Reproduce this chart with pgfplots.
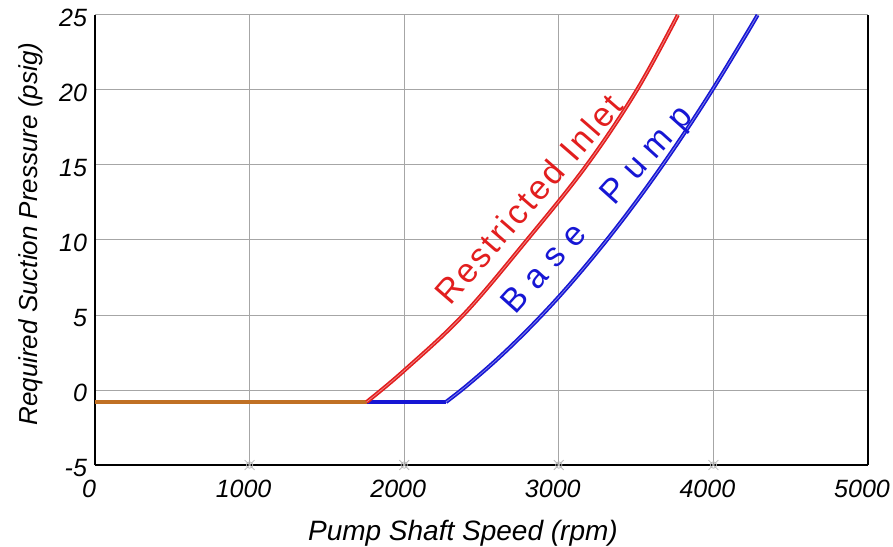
\documentclass[border=0pt]{standalone}
\usepackage{fontspec}
\setmainfont{Liberation Sans}
\usepackage{pgfplots}
\pgfplotsset{compat=1.18}
\definecolor{cred}{RGB}{226,30,30}
\definecolor{cblue}{RGB}{22,22,212}
\definecolor{cbrown}{RGB}{192,112,36}
\begin{document}
\begin{tikzpicture}
\begin{axis}[
  scale only axis, width=386.5pt, height=225pt,
  xmin=0, xmax=5000, ymin=-5, ymax=25,
  xtick={0,1000,...,5000}, ytick={-5,0,...,25},
  grid=major, major grid style={gray!70, line width=0.5pt},
  major tick length=0pt,
  axis x line*=bottom, axis y line*=left,
  axis line style={line width=1pt, black},
  clip=false,
  tick label style={font=\fontsize{12.5}{13}\selectfont\itshape},
  xticklabel style={yshift=-4pt, xshift=-3pt},
  yticklabel style={yshift=-1.5pt, xshift=-0.5pt},
  /pgf/number format/assume math mode=true,
  /pgf/number format/1000 sep={},
  xlabel={Pump Shaft Speed (rpm)},
  ylabel={Required Suction Pressure (psig)},
  xlabel style={font=\fontsize{14}{14}\selectfont\itshape, at={(axis description cs:0.476,0)}, anchor=base, yshift=-37.5pt},
  ylabel style={font=\fontsize{13}{13}\selectfont\itshape, at={(axis description cs:0,0.513)}, anchor=base, yshift=29pt},
]
\addplot[only marks, mark=x, mark size=3.5pt, gray!55, forget plot] coordinates {(1000,-5)(2000,-5)(3000,-5)(4000,-5)};
\addplot[only marks, mark=o, mark size=1.6pt, gray!55, forget plot] coordinates {(1000,-5)(2000,-5)(3000,-5)(4000,-5)};
\addplot[cbrown, line width=2pt] coordinates {(0,-0.8)(1757,-0.8)};
\addplot[cblue, line width=2pt] coordinates {(1757,-0.8)(2270,-0.8)};
\addplot[draw=cblue, line width=0.8pt, double=cblue!55!white, double distance=0.4pt, smooth, tension=0.6]
  coordinates {(2270,-0.8)(2400,0.25)(2600,2.04)(2800,4.03)(3000,6.21)(3200,8.60)(3400,11.18)(3600,13.96)(3800,16.94)(4000,20.12)(4200,23.50)(4286,25)};
\addplot[draw=cred, line width=0.8pt, double=cred!55!white, double distance=0.4pt, smooth, tension=0.6]
  coordinates {(1757,-0.8)(2000,1.3)(2382,5)(2794,10)(3181,15)(3505,20)(3770,25)};
\node[cred, rotate=49, anchor=base, font=\fontsize{17}{17}\selectfont\addfontfeature{LetterSpace=8}] at (axis cs:2863,12.2) {Restricted Inlet};
\node[cblue, rotate=48, anchor=base, font=\fontsize{17}{17}\selectfont\addfontfeature{LetterSpace=30}] at (axis cs:3297,11.57) {Base\ \ Pump};
\draw[line width=1pt] (rel axis cs:1,0) -- (rel axis cs:1,1);
\end{axis}
\pgfresetboundingbox
\path[use as bounding box] ([shift={(-47.5pt,-40.5pt)}]current axis.south west) rectangle ([shift={(12.5pt,7.5pt)}]current axis.north east);
\end{tikzpicture}
\end{document}
